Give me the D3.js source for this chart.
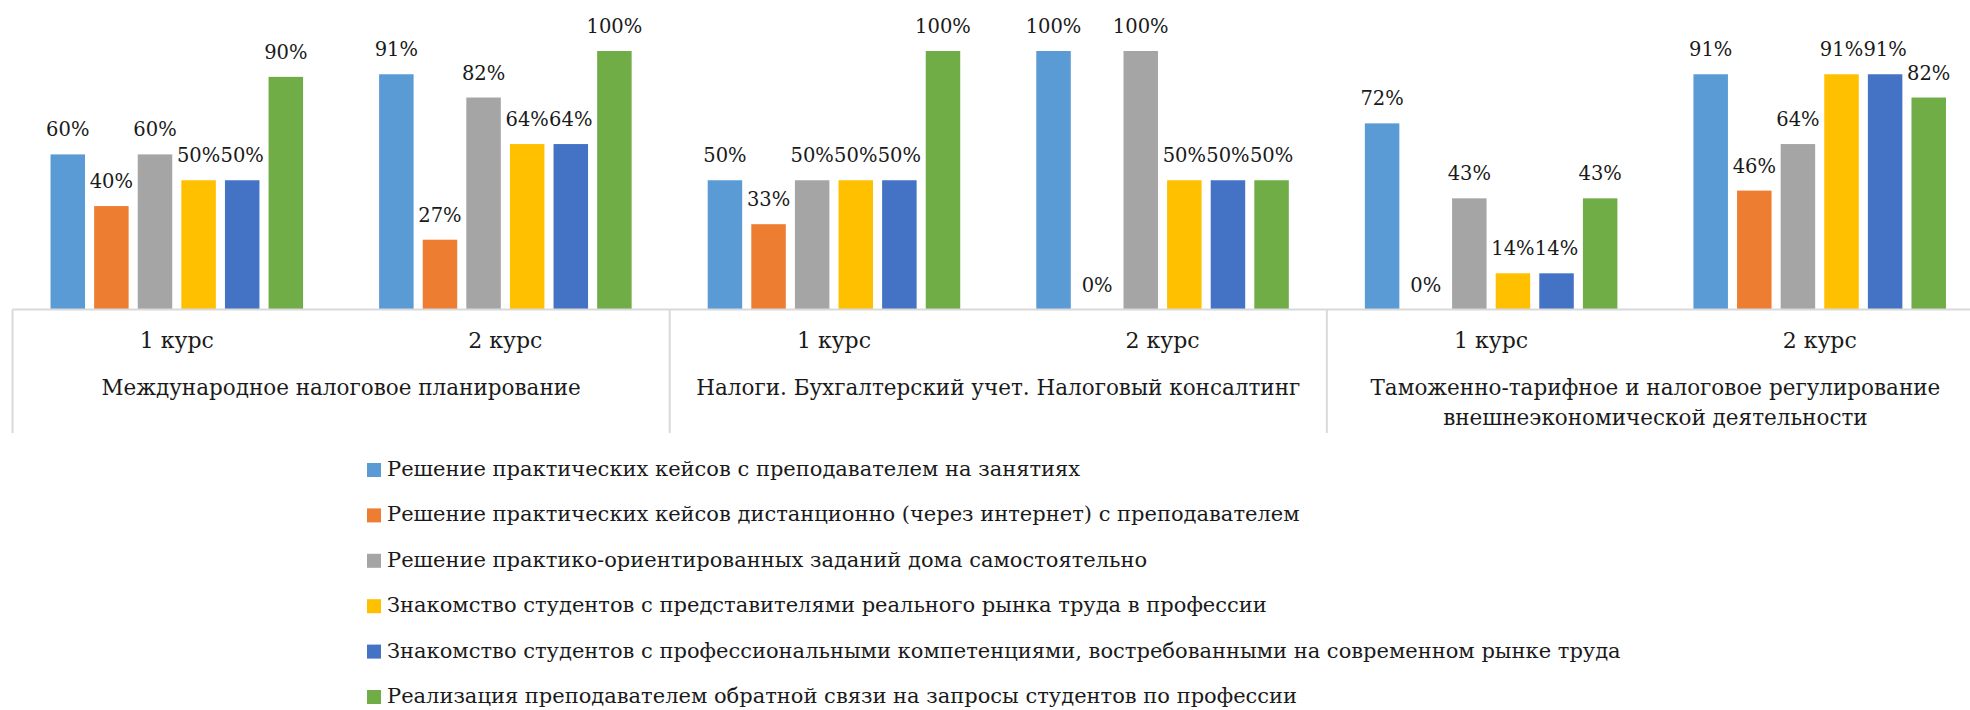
<!DOCTYPE html>
<html><head><meta charset="utf-8">
<script src="https://cdn.jsdelivr.net/npm/d3@7"></script>
<style>
body{margin:0;background:#fff;}
</style>
</head><body>
<svg id="chart" width="1970" height="710"></svg>
<script>
// ---- data ----
const categoryLines = [
  ["Международное налоговое планирование"],
  ["Налоги. Бухгалтерский учет. Налоговый консалтинг"],
  ["Таможенно-тарифное и налоговое регулирование", "внешнеэкономической деятельности"]
];
const courses = ["1 курс", "2 курс"];
const seriesNames = [
  "Решение практических кейсов с преподавателем на занятиях",
  "Решение практических кейсов дистанционно (через интернет) с преподавателем",
  "Решение практико-ориентированных заданий дома самостоятельно",
  "Знакомство студентов с представителями реального рынка труда в профессии",
  "Знакомство студентов с профессиональными компетенциями, востребованными на современном рынке труда",
  "Реализация преподавателем обратной связи на запросы студентов по профессии"
];
const seriesColors = ["#5B9BD5", "#ED7D31", "#A5A5A5", "#FFC000", "#4472C4", "#70AD47"];
// values per series, ordered: cat1-1курс, cat1-2курс, cat2-1курс, cat2-2курс, cat3-1курс, cat3-2курс
const s1 = [60, 91, 50, 100, 72, 91];
const s2 = [40, 27, 33, 0, 0, 46];
const s3 = [60, 82, 50, 100, 43, 64];
const s4 = [50, 64, 50, 50, 14, 91];
const s5 = [50, 64, 50, 50, 14, 91];
const s6 = [90, 100, 100, 50, 43, 82];
const seriesValues = [s1, s2, s3, s4, s5, s6];

// ---- layout ----
const FONT = "'DejaVu Serif', serif";
const svg = d3.select("#chart").attr("font-family", FONT);
const plotLeft = 12.5, plotRight = 1984, plotBase = 309.5, plotTop = 51;
const groups = [];
categoryLines.forEach((c, ci) => courses.forEach((k, ki) => groups.push({ci, ki, label: k})));

const xCat = d3.scaleBand().domain(d3.range(categoryLines.length)).range([plotLeft, plotRight]).padding(0);
const x0 = d3.scaleBand().domain(d3.range(groups.length)).range([plotLeft, plotRight]).padding(0);
const x1 = d3.scaleBand().domain(d3.range(seriesNames.length)).range([0, x0.bandwidth()])
  .paddingInner(0.209).paddingOuter(0.872);
const y = d3.scaleLinear().domain([0, 100]).range([plotBase, plotTop]);

function txt(sel) { return sel.attr("font-family", FONT).attr("fill", "#1a1a1a"); }

// bars
const g = svg.append("g");
seriesValues.forEach((vals, si) => {
  g.selectAll(null).data(vals).enter().append("rect")
    .attr("x", (d, gi) => x0(gi) + x1(si))
    .attr("y", d => y(d))
    .attr("width", x1.bandwidth())
    .attr("height", d => plotBase - y(d))
    .attr("fill", seriesColors[si]);
  txt(g.selectAll(null).data(vals).enter().append("text"))
    .attr("x", (d, gi) => x0(gi) + x1(si) + x1.bandwidth() / 2)
    .attr("y", d => y(d) - 18)
    .attr("text-anchor", "middle")
    .attr("font-size", 19.5)
    .text(d => d + "%");
});

// axis line and dividers
svg.append("line").attr("x1", plotLeft).attr("x2", 1970).attr("y1", plotBase).attr("y2", plotBase)
  .attr("stroke", "#D9D9D9").attr("stroke-width", 2);
const divs = d3.range(categoryLines.length + 1).map(i => plotLeft + i * xCat.step());
svg.selectAll(null).data(divs).enter().append("line")
  .attr("x1", d => d).attr("x2", d => d).attr("y1", plotBase).attr("y2", 433)
  .attr("stroke", "#D9D9D9").attr("stroke-width", 2);

// course labels
txt(svg.selectAll(null).data(groups).enter().append("text"))
  .attr("x", (d, i) => x0(i) + x0.bandwidth() / 2)
  .attr("y", 348)
  .attr("text-anchor", "middle")
  .attr("font-size", 22)
  .text(d => d.label);

// category labels
categoryLines.forEach((lines, ci) => {
  lines.forEach((ln, li) => {
    txt(svg.append("text"))
      .attr("x", xCat(ci) + xCat.bandwidth() / 2)
      .attr("y", 395 + li * 30)
      .attr("text-anchor", "middle")
      .attr("font-size", 21.5)
      .text(ln);
  });
});

// legend
const lg = svg.append("g");
seriesNames.forEach((name, i) => {
  const by = 476 + i * 45.4;
  lg.append("rect").attr("x", 367).attr("y", by - 13).attr("width", 14).attr("height", 14)
    .attr("fill", seriesColors[i]);
  txt(lg.append("text")).attr("x", 387).attr("y", by).attr("font-size", 21).text(name);
});
</script>
</body></html>
